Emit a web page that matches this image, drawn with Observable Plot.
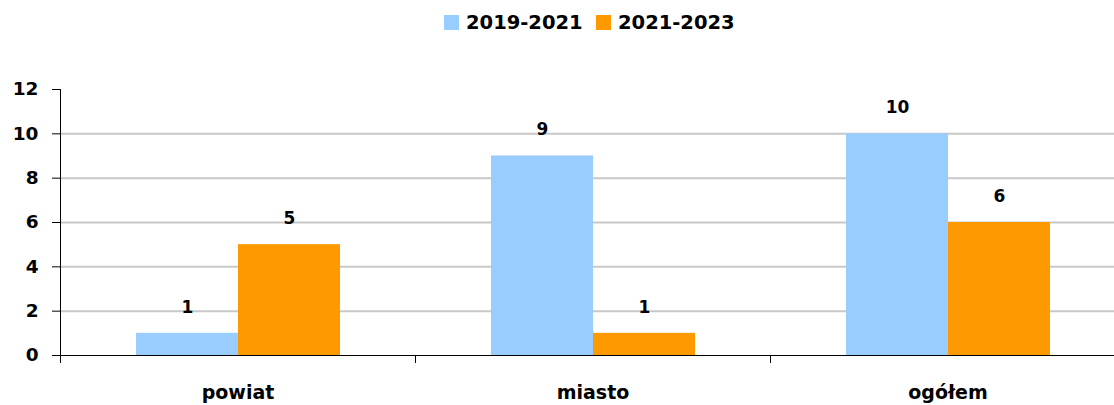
<!DOCTYPE html>
<html>
<head>
<meta charset="utf-8">
<script src="https://cdn.jsdelivr.net/npm/d3@7"></script>
<script src="https://cdn.jsdelivr.net/npm/@observablehq/plot@0.6"></script>
<style>
  html, body { margin: 0; padding: 0; background: #fff; overflow: hidden; width: 1114px; }
  #legend { position: relative; height: 45px; font-family: "DejaVu Sans", sans-serif; font-weight: bold; font-size: 19.5px; color: #000; }
  .item { position: absolute; top: 11px; display: flex; align-items: center; }
  .sw { width: 15px; height: 15px; margin-right: 7px; }
  #chart svg { max-width: none !important; }
</style>
</head>
<body>
<div id="legend"></div>
<div id="chart"></div>
<script>
const categories = ["powiat", "miasto", "ogółem"];
const series = ["2019-2021", "2021-2023"];
const values2019_2021 = [1, 9, 10];
const values2021_2023 = [5, 1, 6];
const colors = ["#99CCFF", "#FF9900"];
const yTicks = [0, 2, 4, 6, 8, 10, 12];

const data = [];
categories.forEach((c, i) => {
  data.push({category: c, series: series[0], value: values2019_2021[i]});
  data.push({category: c, series: series[1], value: values2021_2023[i]});
});

// legend
const legend = d3.select("#legend");
const legendLeft = [444, 596];
series.forEach((s, i) => {
  const it = legend.append("div").attr("class", "item").style("left", legendLeft[i] + "px");
  it.append("div").attr("class", "sw").style("background", colors[i]);
  it.append("span").text(s);
});

const plot = Plot.plot({
  width: 1125,
  height: 360,
  marginLeft: 60,
  marginRight: 0,
  marginTop: 44,
  marginBottom: 50,
  style: {fontFamily: "DejaVu Sans, sans-serif", color: "#000", background: "#fff", maxWidth: "none"},
  fx: {domain: categories, padding: 0, label: null, axis: null},
  x: {domain: series, paddingInner: 0, paddingOuter: 0.74, axis: null},
  y: {domain: [0, 12], label: null},
  color: {domain: series, range: colors},
  marks: [
    Plot.gridY([2, 4, 6, 8, 10], {stroke: "#c8c8c8", strokeWidth: 2, strokeOpacity: 1}),
    Plot.barY(data, {fx: "category", x: "series", y: "value", fill: "series"}),
    Plot.text(data, {fx: "category", x: "series", y: "value", text: d => String(d.value), dy: -26, fontSize: 17, fontWeight: "bold", fill: "#000"}),
    Plot.ruleY([0], {stroke: "#000", strokeWidth: 1}),
    Plot.axisY(yTicks, {tickSize: 8, tickPadding: 14, fontSize: 18.5, fontWeight: "bold", label: null}),
    Plot.axisFx({anchor: "bottom", tickSize: 0, tickPadding: 30, fontSize: 19, fontWeight: "bold", label: null})
  ]
});
document.getElementById("chart").appendChild(plot);

// axis lines drawn with the plot's own scales
const svg = d3.select(plot);
const fx = plot.scale("fx");
const y = plot.scale("y");
const y0 = y.apply(0), yTop = y.apply(12);
const left = fx.apply(categories[0]);
const step = fx.apply(categories[1]) - fx.apply(categories[0]);
const g = svg.append("g").attr("stroke", "#000").attr("stroke-width", 1);
g.append("line").attr("x1", left + 0.5).attr("x2", left + 0.5).attr("y1", yTop).attr("y2", y0 + 8);
categories.forEach((c, i) => {
  const xb = fx.apply(c) + step;
  g.append("line").attr("x1", xb + 0.5).attr("x2", xb + 0.5).attr("y1", y0).attr("y2", y0 + 8);
});
</script>
</body>
</html>
